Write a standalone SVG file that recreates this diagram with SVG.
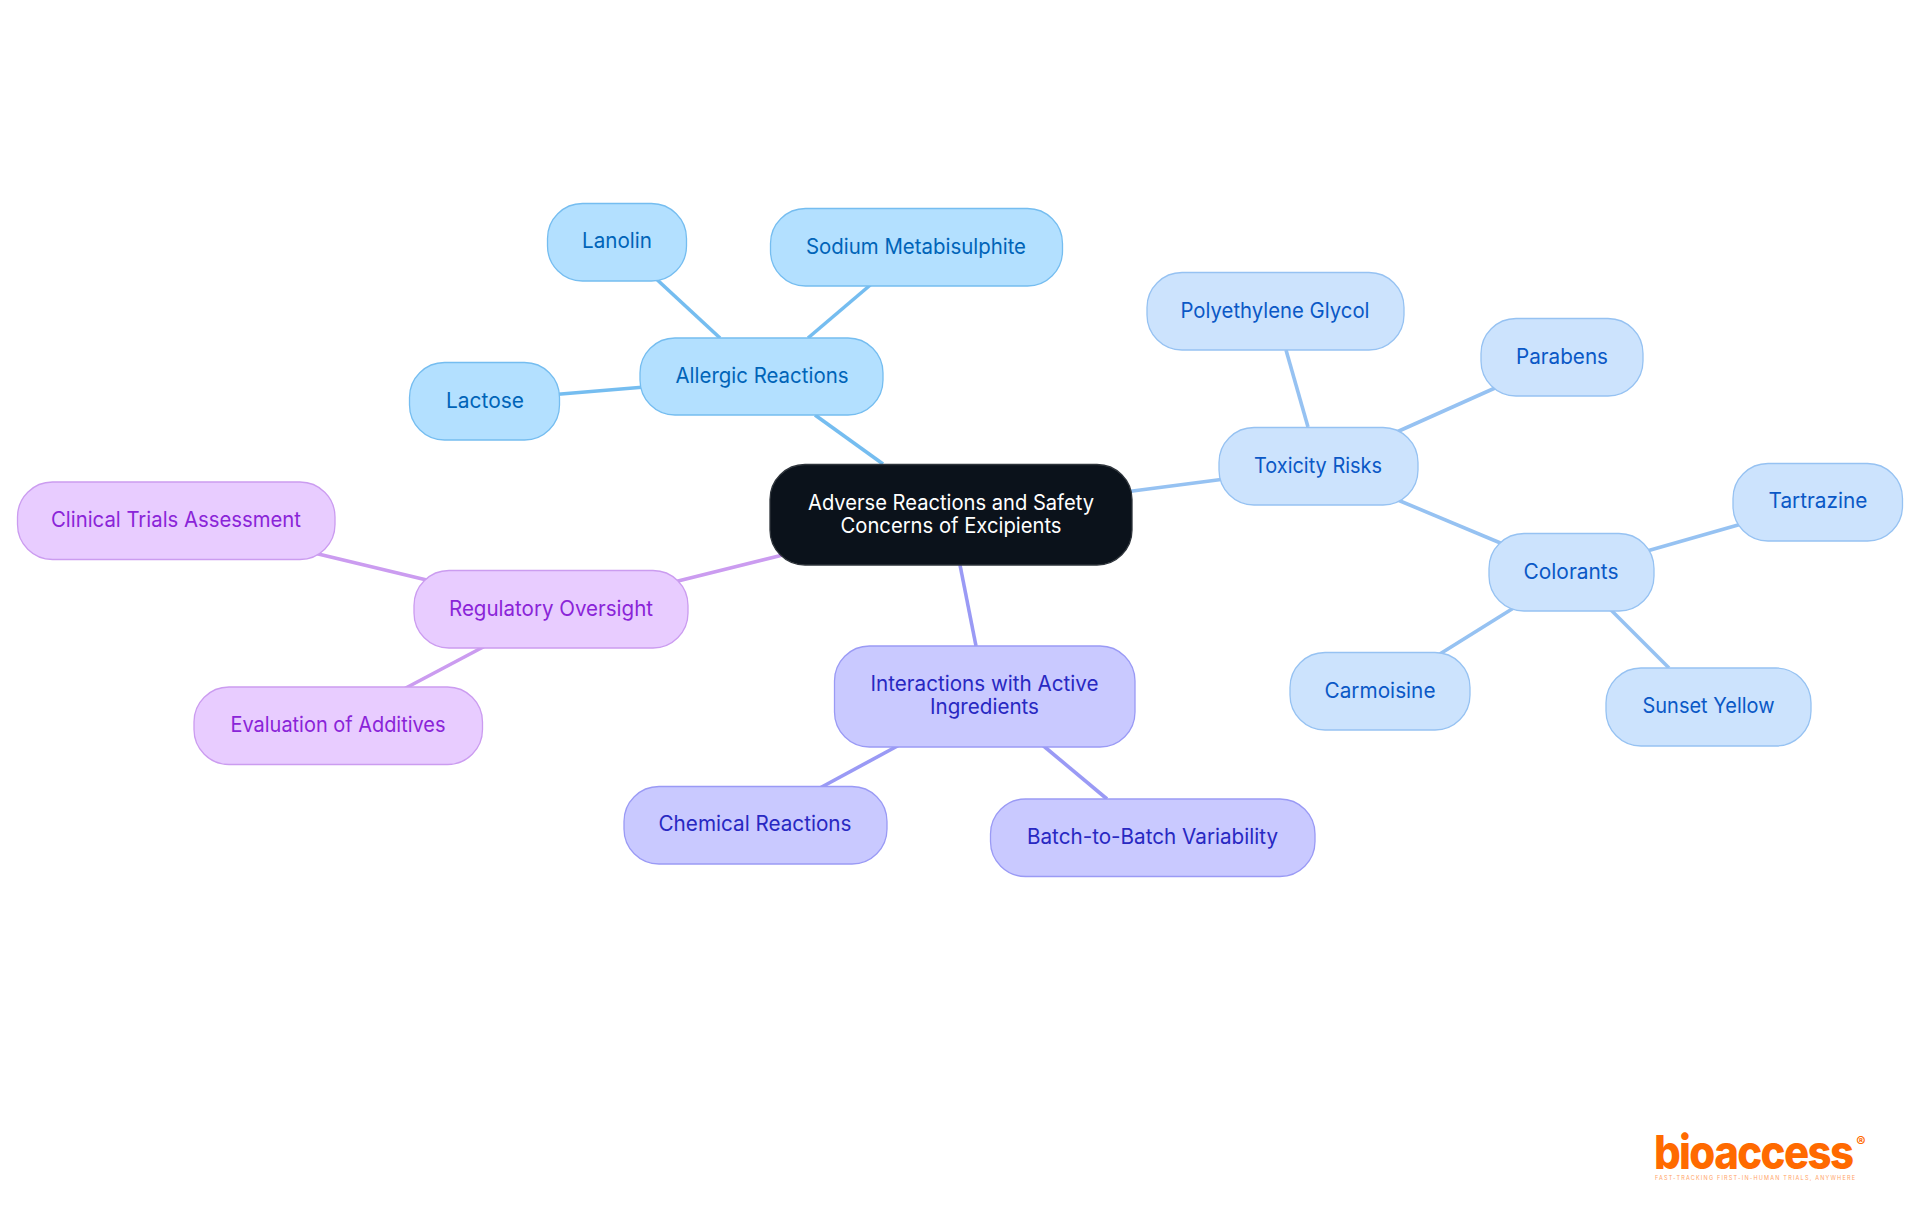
<svg xmlns="http://www.w3.org/2000/svg" width="1920" height="1215" viewBox="0 0 1920 1215">
<style>
text{font-family:"Inter","Noto Sans","Liberation Sans",sans-serif;font-size:21px;font-weight:370;text-anchor:middle}
rect{stroke-width:1.3}
#connectors line{stroke-width:3.6;fill:none}
.a rect{fill:#b3e0ff;stroke:#75bdf0}.a text{fill:#0064b8}
.t rect{fill:#cce3fd;stroke:#96c2f2}.t text{fill:#0a58c6}
.i rect{fill:#c9c9ff;stroke:#9a9af5}.i text{fill:#2828c2}
.r rect{fill:#e8ccff;stroke:#cb9cf0}.r text{fill:#8a24d8}
.root rect{fill:#0b121b;stroke:#2e343b}.root text{fill:#ffffff;font-weight:400}
.ca{stroke:#75bdf0}.ct{stroke:#96c2f2}.ci{stroke:#9a9af5}.cr{stroke:#cb9cf0}
</style>
<rect x="0" y="0" width="1920" height="1215" style="fill:#fff;stroke:none"/>
<g id="connectors">
<line class="ca" x1="815" y1="415" x2="883" y2="464"/>
<line class="ca" x1="652" y1="275" x2="720" y2="338"/>
<line class="ca" x1="875" y1="281" x2="808" y2="338"/>
<line class="ca" x1="555" y1="394.500" x2="645" y2="387"/>
<line class="ct" x1="1125" y1="492" x2="1225" y2="479"/>
<line class="ct" x1="1286" y1="350" x2="1308" y2="427"/>
<line class="ct" x1="1495" y1="388" x2="1390" y2="435"/>
<line class="ct" x1="1393" y1="498" x2="1510" y2="547"/>
<line class="ct" x1="1745" y1="523" x2="1640" y2="553"/>
<line class="ct" x1="1435" y1="657" x2="1520" y2="604"/>
<line class="ct" x1="1669" y1="668" x2="1606" y2="605"/>
<line class="ci" x1="960" y1="565" x2="976" y2="646"/>
<line class="ci" x1="818" y1="789" x2="903" y2="743"/>
<line class="ci" x1="1107" y1="799" x2="1040" y2="743"/>
<line class="cr" x1="795" y1="552" x2="670" y2="583"/>
<line class="cr" x1="312" y1="552.500" x2="435" y2="582"/>
<line class="cr" x1="402" y1="690" x2="487" y2="645"/>
</g>
<g id="root" class="root"><rect x="770" y="464.500" width="362" height="100.500" rx="35"/><text x="951" y="509.500" textLength="286" lengthAdjust="spacingAndGlyphs">Adverse Reactions and Safety</text><text x="951" y="532.500" textLength="221" lengthAdjust="spacingAndGlyphs">Concerns of Excipients</text></g>
<g id="allergic" class="a"><rect x="640" y="338" width="243" height="77" rx="35"/><text x="762" y="383" textLength="173" lengthAdjust="spacingAndGlyphs">Allergic Reactions</text></g>
<g id="lanolin" class="a"><rect x="547.500" y="203.500" width="139" height="77.500" rx="35"/><text x="617" y="248" textLength="70" lengthAdjust="spacingAndGlyphs">Lanolin</text></g>
<g id="sodium" class="a"><rect x="770.500" y="208.500" width="292" height="77.500" rx="35"/><text x="916" y="254" textLength="220" lengthAdjust="spacingAndGlyphs">Sodium Metabisulphite</text></g>
<g id="lactose" class="a"><rect x="409.500" y="362.500" width="150" height="77.500" rx="35"/><text x="485" y="408" textLength="78" lengthAdjust="spacingAndGlyphs">Lactose</text></g>
<g id="toxicity" class="t"><rect x="1219" y="427.500" width="199" height="77.500" rx="35"/><text x="1318" y="473" textLength="128" lengthAdjust="spacingAndGlyphs">Toxicity Risks</text></g>
<g id="polyethylene" class="t"><rect x="1147" y="272.500" width="257" height="77.500" rx="35"/><text x="1275" y="318" textLength="189" lengthAdjust="spacingAndGlyphs">Polyethylene Glycol</text></g>
<g id="parabens" class="t"><rect x="1481" y="318.500" width="162" height="77.500" rx="35"/><text x="1562" y="364" textLength="92" lengthAdjust="spacingAndGlyphs">Parabens</text></g>
<g id="colorants" class="t"><rect x="1489" y="533.500" width="165" height="77.500" rx="35"/><text x="1571" y="579" textLength="95" lengthAdjust="spacingAndGlyphs">Colorants</text></g>
<g id="tartrazine" class="t"><rect x="1733" y="463.500" width="169.500" height="77.500" rx="35"/><text x="1818" y="508" textLength="99" lengthAdjust="spacingAndGlyphs">Tartrazine</text></g>
<g id="carmoisine" class="t"><rect x="1290" y="652.500" width="180" height="77.500" rx="35"/><text x="1380" y="698" textLength="111" lengthAdjust="spacingAndGlyphs">Carmoisine</text></g>
<g id="sunset" class="t"><rect x="1606" y="668" width="205" height="78" rx="35"/><text x="1708.500" y="713" textLength="132" lengthAdjust="spacingAndGlyphs">Sunset Yellow</text></g>
<g id="interactions" class="i"><rect x="834.500" y="646" width="300.500" height="101" rx="35"/><text x="984.500" y="691" textLength="228" lengthAdjust="spacingAndGlyphs">Interactions with Active</text><text x="984.500" y="714" textLength="109" lengthAdjust="spacingAndGlyphs">Ingredients</text></g>
<g id="chemical" class="i"><rect x="624" y="786.500" width="263" height="77.500" rx="35"/><text x="755" y="831" textLength="193" lengthAdjust="spacingAndGlyphs">Chemical Reactions</text></g>
<g id="batch" class="i"><rect x="990.500" y="799" width="324.500" height="77.500" rx="35"/><text x="1152.500" y="844" textLength="251" lengthAdjust="spacingAndGlyphs">Batch-to-Batch Variability</text></g>
<g id="regulatory" class="r"><rect x="414" y="570.500" width="274" height="77.500" rx="35"/><text x="551" y="616" textLength="204" lengthAdjust="spacingAndGlyphs">Regulatory Oversight</text></g>
<g id="clinical" class="r"><rect x="17.500" y="482" width="317.500" height="77.500" rx="35"/><text x="176" y="527" textLength="250" lengthAdjust="spacingAndGlyphs">Clinical Trials Assessment</text></g>
<g id="evaluation" class="r"><rect x="194" y="687" width="288.500" height="77.500" rx="35"/><text x="338" y="732" textLength="215" lengthAdjust="spacingAndGlyphs">Evaluation of Additives</text></g>
<g id="logo">
<text transform="translate(1654,1169) scale(1,1.12)" x="0" y="0" textLength="200" lengthAdjust="spacing" style="font-weight:800;font-size:42px;fill:#ff6a00;text-anchor:start">bioaccess</text>
<text x="1861" y="1147" style="font-size:14px;font-weight:700;fill:#ff6a00">®</text>
<text x="1655" y="1179.500" textLength="200" lengthAdjust="spacing" style="font-size:5.500px;fill:#ffa366;text-anchor:start">FAST-TRACKING FIRST-IN-HUMAN TRIALS, ANYWHERE</text>
</g>
</svg>
